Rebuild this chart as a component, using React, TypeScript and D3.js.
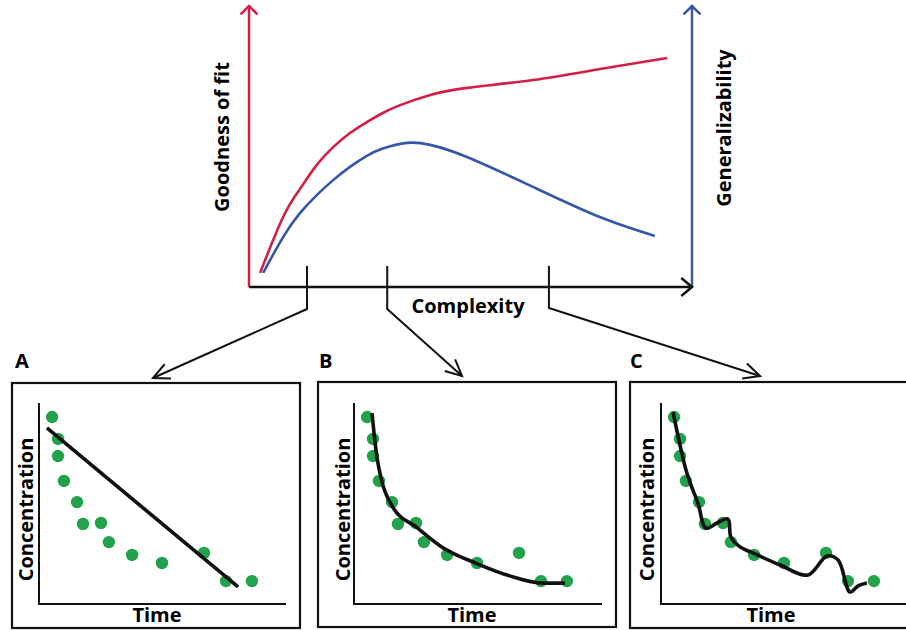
import React from "react";
import * as d3 from "d3";

// top chart: complexity (0-100) vs goodness of fit / generalizability
const fitX = [2.5, 7.7, 11.5, 15.3, 19, 22.8, 26.6, 30.2, 34.1, 40.9, 49.2, 64.1, 79.2, 94.4];
const fitY = [5, 24.8, 34.8, 43.3, 49.6, 54.6, 58.5, 61.7, 64.5, 68.1, 70.6, 73.4, 77.3, 81.2];
const genX = [3.2, 7.7, 11.5, 15.3, 19, 22.8, 26.6, 30.2, 35.7, 40.9, 49.2, 64.1, 79.2, 91.6];
const genY = [5, 17.7, 26.2, 32.6, 37.9, 42.6, 46.5, 49.1, 51.1, 50.4, 46.1, 35.5, 24.8, 18.1];
const complexityTicks = [13.1, 31.2, 67.7];
const panelLabels = ["A", "B", "C"];

// observations (same in every panel)
const obsTime = [5.3, 7.7, 7.7, 10.1, 15.4, 17.8, 25.1, 28.3, 37.7, 49.8, 66.8, 75.7, 86.2];
const obsConc = [93, 82.1, 73.6, 61.2, 50.7, 39.8, 40.3, 30.8, 24.4, 20.4, 25.4, 11.4, 11.4];

// fitted models
const linTime = [3.2, 80.6];
const linConc = [87.6, 8.5];
const expTime = [7.3, 9.3, 15.8, 25.5, 36, 50, 63, 76.5, 85.4];
const expConc = [95, 73, 48, 38, 28, 20, 14, 10.4, 10.4];
const overTime = [4.9, 10.5, 15, 18.2, 22.7, 27.1, 28.3, 32, 37.2, 48.2, 59.5, 67.2, 71.7, 76.5, 79.8, 83.4];
const overConc = [95.5, 65, 50, 37.8, 40.3, 42.3, 33.3, 28.4, 25.4, 19.4, 14.4, 23.9, 21.9, 6, 9, 10.4];

const RED = "#d31f45";
const BLUE = "#3657a8";
const GREEN = "#21a24b";
const FONT = "'Open Sans', sans-serif";

const zip = (xs: number[], ys: number[]) => xs.map((x, i) => [x, ys[i]] as [number, number]);

// open chevron at the end of a segment
function chevron(x1: number, y1: number, x2: number, y2: number, len: number, half: number) {
  const a = Math.atan2(y2 - y1, x2 - x1);
  const p1 = [x2 - len * Math.cos(a - half), y2 - len * Math.sin(a - half)];
  const p2 = [x2 - len * Math.cos(a + half), y2 - len * Math.sin(a + half)];
  return `M${p1[0]},${p1[1]}L${x2},${y2}L${p2[0]},${p2[1]}`;
}

type PanelProps = {
  label: string;
  box: [number, number, number, number];
  axisX: number;
  axisEnd: number;
  labelX: number;
  concX: number;
  timeX: number;
  fit: [number, number][];
  curve: d3.CurveFactory;
};

function Panel({ label, box, axisX, axisEnd, labelX, concX, timeX, fit, curve }: PanelProps) {
  const x = d3.scaleLinear().domain([0, 100]).range([axisX, axisX + 247]);
  const y = d3.scaleLinear().domain([0, 100]).range([604, 403]);
  const line = d3
    .line<[number, number]>()
    .x((d) => x(d[0]))
    .y((d) => y(d[1]))
    .curve(curve);
  const pts = zip(obsTime, obsConc);
  return (
    <g>
      <text x={labelX} y={368} fontFamily={FONT} fontWeight="bold" fontSize={20}>
        {label}
      </text>
      <rect x={box[0]} y={box[1]} width={box[2]} height={box[3]} fill="none" stroke="#111" strokeWidth={2.2} />
      <path d={`M${axisX},${y(100)}V${y(0)}H${axisEnd}`} fill="none" stroke="#111" strokeWidth={2} />
      {pts.map((d, i) => (
        <circle key={i} cx={x(d[0])} cy={y(d[1])} r={6.2} fill={GREEN} />
      ))}
      <path d={line(fit) || ""} fill="none" stroke="#111" strokeWidth={3.6} strokeLinejoin="round" />
      <text
        transform={`translate(${concX},${y(47)}) rotate(-90)`}
        textAnchor="middle"
        dominantBaseline="central"
        fontFamily={FONT}
        fontWeight="bold"
        fontSize={20}
      >
        Concentration
      </text>
      <text x={timeX} y={622} textAnchor="middle" fontFamily={FONT} fontWeight="bold" fontSize={20}>
        Time
      </text>
    </g>
  );
}

export default function App() {
  const xTop = d3.scaleLinear().domain([0, 100]).range([249, 692]);
  const yTop = d3.scaleLinear().domain([0, 100]).range([287, 5]);
  const topLine = d3
    .line<[number, number]>()
    .x((d) => xTop(d[0]))
    .y((d) => yTop(d[1]))
    .curve(d3.curveNatural);

  const tx = complexityTicks.map((t) => xTop(t));
  const targets: [number, number][] = [
    [153, 378],
    [462, 376],
    [760, 376],
  ];
  const bends = [309, 309, 308];

  return (
    <svg width={906} height={630} style={{ position: "absolute", left: 0, top: 0, background: "#fff" }}>
      {/* top chart */}
      <path d={`M${xTop(0)},${yTop(0)}V${yTop(100)}`} stroke={RED} strokeWidth={2.5} fill="none" />
      <path d={chevron(xTop(0), yTop(0), xTop(0), yTop(100) + 1, 12, Math.PI / 4)} stroke={RED} strokeWidth={2.5} fill="none" />
      <path d={`M${xTop(100)},${yTop(0)}V${yTop(100)}`} stroke={BLUE} strokeWidth={2.5} fill="none" />
      <path d={chevron(xTop(100), yTop(0), xTop(100), yTop(100) + 1, 12, Math.PI / 4)} stroke={BLUE} strokeWidth={2.5} fill="none" />
      <path d={`M${xTop(0)},${yTop(0)}H${xTop(100)}`} stroke="#111" strokeWidth={2.5} fill="none" />
      <path d={chevron(xTop(0), yTop(0), xTop(100), yTop(0), 14, Math.PI / 4.5)} stroke="#111" strokeWidth={2.5} fill="none" />

      <path d={topLine(zip(fitX, fitY)) || ""} stroke={RED} strokeWidth={2.6} fill="none" />
      <path d={topLine(zip(genX, genY)) || ""} stroke={BLUE} strokeWidth={2.6} fill="none" />

      {tx.map((x, i) => (
        <g key={i}>
          <path
            d={`M${x},266V${bends[i]}L${targets[i][0]},${targets[i][1]}`}
            stroke="#111"
            strokeWidth={2}
            fill="none"
          />
          <path d={chevron(x, bends[i], targets[i][0], targets[i][1], 18, Math.PI / 7)} stroke="#111" strokeWidth={2} fill="none" />
        </g>
      ))}

      <text
        transform="translate(221,137) rotate(-90)"
        textAnchor="middle"
        dominantBaseline="central"
        fontFamily={FONT}
        fontWeight="bold"
        fontSize={20}
      >
        Goodness of fit
      </text>
      <text
        transform="translate(723,128) rotate(-90)"
        textAnchor="middle"
        dominantBaseline="central"
        fontFamily={FONT}
        fontWeight="bold"
        fontSize={20}
      >
        Generalizability
      </text>
      <text x={468} y={313} textAnchor="middle" fontFamily={FONT} fontWeight="bold" fontSize={20}>
        Complexity
      </text>

      {/* panels */}
      <Panel
        label={panelLabels[0]}
        box={[12, 383, 288, 245]}
        axisX={39}
        axisEnd={286}
        labelX={15}
        concX={25}
        timeX={157}
        fit={zip(linTime, linConc)}
        curve={d3.curveLinear}
      />
      <Panel
        label={panelLabels[1]}
        box={[318, 382, 298, 245]}
        axisX={354}
        axisEnd={602}
        labelX={319}
        concX={342}
        timeX={472}
        fit={zip(expTime, expConc)}
        curve={d3.curveMonotoneX}
      />
      <Panel
        label={panelLabels[2]}
        box={[630, 382, 300, 246]}
        axisX={661}
        axisEnd={910}
        labelX={630}
        concX={646}
        timeX={771}
        fit={zip(overTime, overConc)}
        curve={d3.curveCatmullRom.alpha(0.5)}
      />
    </svg>
  );
}
